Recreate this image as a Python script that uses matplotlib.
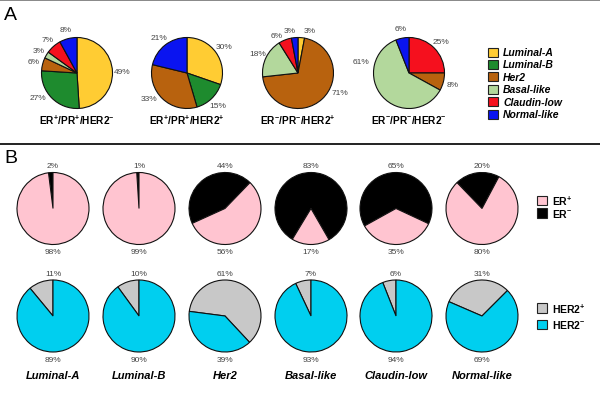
import matplotlib
matplotlib.use('Agg')
import matplotlib.pyplot as plt
from matplotlib.patches import Rectangle
from matplotlib.lines import Line2D
import numpy as np

plt.rcParams['font.family'] = ['Liberation Sans', 'DejaVu Sans']
plt.rcParams['mathtext.fontset'] = 'custom'
plt.rcParams['mathtext.rm'] = 'Liberation Sans'
plt.rcParams['mathtext.bf'] = 'Liberation Sans:bold'
plt.rcParams['mathtext.it'] = 'Liberation Sans:italic'
plt.rcParams['mathtext.default'] = 'bf'

# ---------------- data ----------------
subtypes = ['Luminal-A', 'Luminal-B', 'Her2', 'Basal-like', 'Claudin-low', 'Normal-like']
receptor_groups = ['ER$^{+}$/PR$^{+}$/HER2$^{-}$', 'ER$^{+}$/PR$^{+}$/HER2$^{+}$',
                   'ER$^{-}$/PR$^{-}$/HER2$^{+}$', 'ER$^{-}$/PR$^{-}$/HER2$^{-}$']
pct_er_pos_pr_pos_her2_neg = [49, 27, 6, 3, 7, 8]
pct_er_pos_pr_pos_her2_pos = [30, 15, 33, 0, 0, 21]
pct_er_neg_pr_neg_her2_pos = [3, 0, 71, 18, 6, 3]
pct_er_neg_pr_neg_her2_neg = [0, 0, 8, 61, 25, 6]
er_pos = [98, 99, 56, 17, 35, 80]
er_neg = [2, 1, 44, 83, 65, 20]
her2_pos = [11, 10, 61, 7, 6, 31]
her2_neg = [89, 90, 39, 93, 94, 69]

# ---------------- style ----------------
subtype_colors = ['#FFCC33', '#1E8B2E', '#B8620E', '#B3D89C', '#F5101E', '#0A14F0']
er_colors = {'pos': '#FFC4D0', 'neg': '#000000'}
her2_colors = {'pos': '#C8C8C8', 'neg': '#00CFEF'}
pct_color = '#444444'

W, H = 600, 410
fig = plt.figure(figsize=(W / 100, H / 100), dpi=100)
ax = fig.add_axes([0, 0, 1, 1])


def Y(y):
    return H - y


edge = dict(edgecolor='#111111', linewidth=0.8)

# ---------------- panel A ----------------
groups = [pct_er_pos_pr_pos_her2_neg, pct_er_pos_pr_pos_her2_pos,
          pct_er_neg_pr_neg_her2_pos, pct_er_neg_pr_neg_her2_neg]
a_cx = [77, 187, 298, 409]
a_cy = 74
a_r = 35.5
a_orders = [[0, 1, 2, 3, 4, 5], [0, 1, 2, 3, 4, 5], [0, 1, 2, 3, 4, 5], [4, 2, 3, 5, 0, 1]]
# label angle overrides (pie index, subtype index) -> (angle deg, radius factor)
label_override = {(0, 1): (212, 1.3), (1, 2): (214, 1.3), (2, 2): (-25, 1.3),
                  (3, 3): (166, 1.38), (2, 0): (75, 1.25), (2, 5): (101, 1.22),
                  (2, 4): (120, 1.22)}

for gi, vals in enumerate(groups):
    idx = [i for i in a_orders[gi] if vals[i] > 0]
    v = [vals[i] for i in idx]
    c = [subtype_colors[i] for i in idx]
    wedges, _ = ax.pie(v, colors=c, startangle=90, counterclock=False,
                       center=(a_cx[gi], Y(a_cy)), radius=a_r, wedgeprops=edge)
    for w, i in zip(wedges, idx):
        ang = 0.5 * (w.theta1 + w.theta2)
        rf = 1.27
        if (gi, i) in label_override:
            ang, rf = label_override[(gi, i)]
        tx = a_cx[gi] + rf * a_r * np.cos(np.radians(ang))
        ty = Y(a_cy) + rf * a_r * np.sin(np.radians(ang))
        ax.text(tx, ty, f'{vals[i]}%', ha='center', va='center', fontsize=6,
                color=pct_color)
    ax.text(a_cx[gi], Y(120), receptor_groups[gi], ha='center', va='center',
            fontsize=7.3, fontweight='bold')

# legend A
for k, name in enumerate(subtypes):
    yy = 53 + k * 12.4
    ax.add_patch(Rectangle((488, Y(yy) - 4.5), 10, 9, facecolor=subtype_colors[k],
                           edgecolor='#222222', linewidth=0.8))
    ax.text(503, Y(yy), name, ha='left', va='center', fontsize=7.5,
            fontweight='bold', fontstyle='italic')

# ---------------- panel B ----------------
b_cx = [53, 139, 225, 311, 396, 482]
b_r = 36
er_cy = 209.5
her2_cy = 317
er_start = [90, 90, 46, 300, 335, 62]
her2_start = [90, 90, 313, 90, 90, 45]

for i in range(len(subtypes)):
    ax.pie([er_neg[i], er_pos[i]], colors=[er_colors['neg'], er_colors['pos']],
           startangle=er_start[i], counterclock=True,
           center=(b_cx[i], Y(er_cy)), radius=b_r, wedgeprops=edge)
    ax.text(b_cx[i], Y(er_cy - 43), f'{er_neg[i]}%', ha='center', va='center',
            fontsize=6, color=pct_color)
    ax.text(b_cx[i], Y(er_cy + 43.5), f'{er_pos[i]}%', ha='center', va='center',
            fontsize=6, color=pct_color)

    ax.pie([her2_pos[i], her2_neg[i]], colors=[her2_colors['pos'], her2_colors['neg']],
           startangle=her2_start[i], counterclock=True,
           center=(b_cx[i], Y(her2_cy)), radius=b_r, wedgeprops=edge)
    ax.text(b_cx[i], Y(her2_cy - 42), f'{her2_pos[i]}%', ha='center', va='center',
            fontsize=6, color=pct_color)
    ax.text(b_cx[i], Y(her2_cy + 44), f'{her2_neg[i]}%', ha='center', va='center',
            fontsize=6, color=pct_color)

    ax.text(b_cx[i], Y(376), subtypes[i], ha='center', va='center', fontsize=8,
            fontweight='bold', fontstyle='italic')

# legend B
b_leg = [(201.5, er_colors['pos'], 'ER$^{+}$'), (214, er_colors['neg'], 'ER$^{-}$'),
         (309, her2_colors['pos'], 'HER2$^{+}$'), (325.5, her2_colors['neg'], 'HER2$^{-}$')]
for yy, col, lab in b_leg:
    ax.add_patch(Rectangle((537, Y(yy) - 4.75), 10, 9.5, facecolor=col,
                           edgecolor='#222222', linewidth=0.8))
    ax.text(552, Y(yy), lab, ha='left', va='center', fontsize=7.5, fontweight='bold')

# panel letters and frame lines
ax.text(4, Y(15), 'A', ha='left', va='center', fontsize=14)
ax.text(4, Y(159), 'B', ha='left', va='center', fontsize=14)
ax.add_line(Line2D([0, W], [Y(0.7), Y(0.7)], color='#888888', linewidth=1.4))
ax.add_line(Line2D([0, W], [Y(144.5), Y(144.5)], color='#111111', linewidth=1.3))

ax.set_xlim(0, W)
ax.set_ylim(0, H)
ax.set_aspect('equal')
ax.axis('off')
fig.savefig('out.png', dpi=100)
